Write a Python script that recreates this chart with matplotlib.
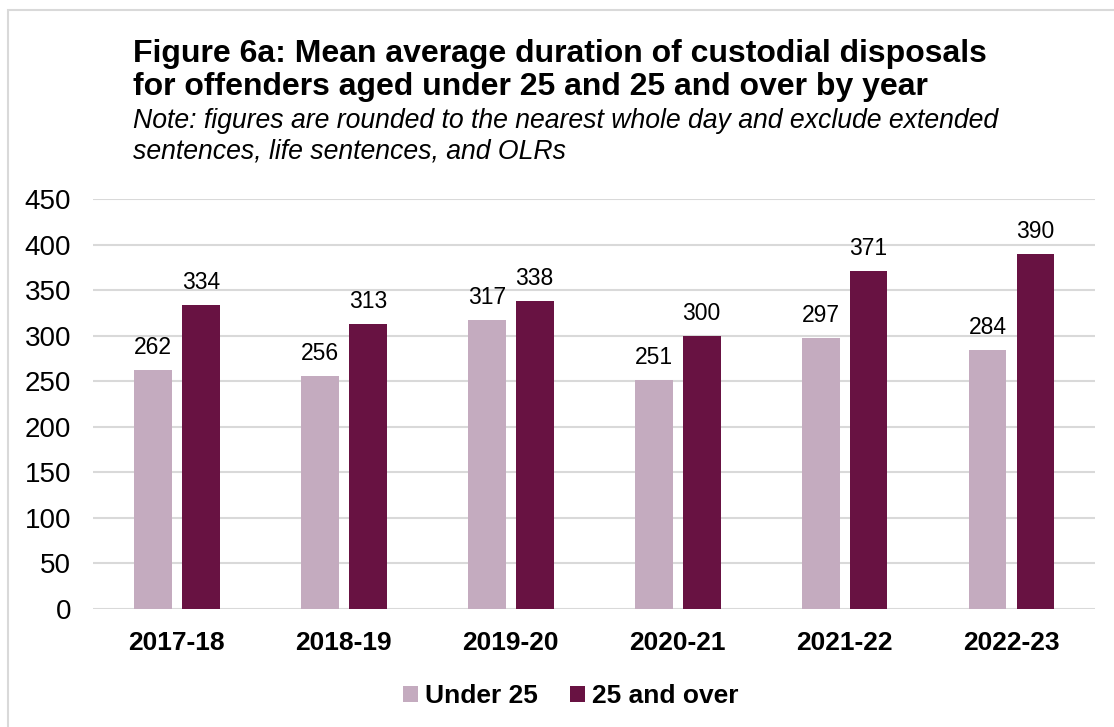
import matplotlib.pyplot as plt
import numpy as np
from matplotlib.patches import Rectangle

plt.rcParams['font.family'] = ['Liberation Sans', 'DejaVu Sans']

years = ['2017-18', '2018-19', '2019-20', '2020-21', '2021-22', '2022-23']
under_25 = [262, 256, 317, 251, 297, 284]
over_25 = [334, 313, 338, 300, 371, 390]

light = '#C4ABBF'
dark = '#681242'
grid_col = '#D9D9D9'

fig = plt.figure(figsize=(11.14, 7.27), dpi=100)
ax = fig.add_axes([0.0839, 0.1623, 0.8990, 0.5640])

# outer frame of the chart area
fig.patches.append(Rectangle((8 / 1114, -0.05), 1.2, 1 - 10 / 727 + 0.05,
                             transform=fig.transFigure, fill=False,
                             edgecolor=grid_col, linewidth=1.5))

x = np.arange(len(years))
w = 0.227
off = w / 2 + 0.03
b1 = ax.bar(x - off, under_25, w, color=light, label='Under 25', zorder=3)
b2 = ax.bar(x + off, over_25, w, color=dark, label='25 and over', zorder=3)

for bars, vals in ((b1, under_25), (b2, over_25)):
    for r, v in zip(bars, vals):
        ax.annotate(str(v), (r.get_x() + r.get_width() / 2, v),
                    xytext=(0, 8), textcoords='offset points',
                    ha='center', va='bottom', fontsize=16.5)

ax.set_xlim(-0.5, len(years) - 0.5)
ax.set_ylim(0, 450)
ax.set_yticks(range(0, 451, 50))
ax.set_xticks(x)
ax.set_xticklabels(years, fontsize=19, fontweight='bold')
ax.tick_params(axis='y', labelsize=20, length=0, pad=16)
ax.tick_params(axis='x', length=0, pad=16)
ax.yaxis.grid(True, color=grid_col, linewidth=1.5, zorder=0)
for s in ax.spines.values():
    s.set_visible(False)

fig.text(133 / 1114, 1 - 62 / 727,
         'Figure 6a: Mean average duration of custodial disposals',
         fontsize=23, fontweight='bold', va='baseline')
fig.text(133 / 1114, 1 - 95 / 727,
         'for offenders aged under 25 and 25 and over by year',
         fontsize=23, fontweight='bold', va='baseline')
fig.text(133 / 1114, 1 - 128 / 727,
         'Note: figures are rounded to the nearest whole day and exclude extended',
         fontsize=19.2, fontstyle='italic', va='baseline')
fig.text(133 / 1114, 1 - 158 / 727,
         'sentences, life sentences, and OLRs',
         fontsize=19.2, fontstyle='italic', va='baseline')

fig.legend(handles=[b1, b2], loc='center', bbox_to_anchor=(571 / 1114, 1 - 696 / 727),
           ncol=2, frameon=False, prop={'size': 19, 'weight': 'bold'},
           handlelength=0.55, handleheight=0.55, handletextpad=0.3, columnspacing=1.2)

fig.savefig('out.png', dpi=100)
